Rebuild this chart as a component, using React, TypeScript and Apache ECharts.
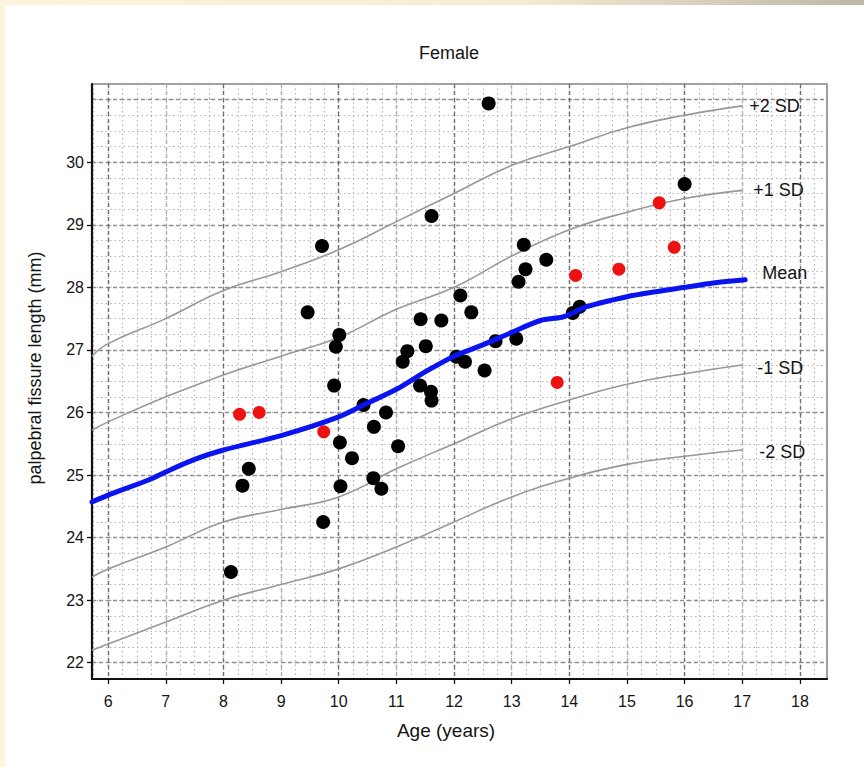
import React, { useEffect, useRef } from "react";
import * as echarts from "echarts";

// ---- tick labels ----
const xTickValues = [6, 7, 8, 9, 10, 11, 12, 13, 14, 15, 16, 17, 18];
const yTickValues = [22, 23, 24, 25, 26, 27, 28, 29, 30];
const yGridValues = [22, 23, 24, 25, 26, 27, 28, 29, 30, 31];

// ---- reference curves ----
const curveAges = [5.72, 6, 7, 8, 9, 10, 11, 12, 13, 14, 15, 16, 17];
const plus2SD = [26.9, 27.1, 27.5, 27.95, 28.25, 28.6, 29.05, 29.5, 29.95, 30.25, 30.55, 30.75, 30.9];
const plus1SD = [25.72, 25.85, 26.25, 26.6, 26.9, 27.2, 27.65, 28.0, 28.5, 28.92, 29.2, 29.42, 29.55];
const minus1SD = [23.37, 23.5, 23.85, 24.25, 24.45, 24.65, 25.1, 25.5, 25.9, 26.2, 26.45, 26.62, 26.76];
const minus2SD = [22.2, 22.3, 22.65, 23.0, 23.25, 23.5, 23.85, 24.25, 24.65, 24.95, 25.17, 25.3, 25.4];

const meanAges = [5.72, 6, 6.7, 7, 7.5, 8, 9, 10, 10.5, 11, 11.5, 12, 12.5, 13, 13.5, 13.9, 14.3, 15, 15.5, 16, 16.5, 17.05];
const meanValues = [24.57, 24.68, 24.92, 25.05, 25.25, 25.4, 25.63, 25.93, 26.15, 26.37, 26.65, 26.9, 27.08, 27.28, 27.47, 27.53, 27.69, 27.85, 27.93, 28.0, 28.07, 28.12];

const curveLabels = ["+2 SD", "+1 SD", "Mean", "-1 SD", "-2 SD"];

// ---- observations ----
const blackAges = [8.13, 8.33, 8.44, 9.46, 9.71, 9.73, 9.92, 9.95, 10.01, 10.02, 10.03, 10.23, 10.43, 10.6, 10.61, 10.74, 10.82, 11.03, 11.11, 11.19, 11.41, 11.42, 11.51, 11.6, 11.61, 11.61, 11.78, 12.04, 12.11, 12.19, 12.3, 12.53, 12.6, 12.72, 13.08, 13.12, 13.21, 13.24, 13.6, 14.06, 14.18, 16.0];
const blackValues = [23.45, 24.83, 25.1, 27.6, 28.66, 24.25, 26.43, 27.05, 27.24, 25.52, 24.82, 25.27, 26.12, 24.95, 25.77, 24.78, 26.0, 25.46, 26.81, 26.98, 26.43, 27.49, 27.06, 26.33, 26.19, 29.14, 27.47, 26.89, 27.87, 26.81, 27.6, 26.67, 30.94, 27.14, 27.18, 28.09, 28.68, 28.29, 28.44, 27.59, 27.69, 29.65];
const redAges = [8.28, 8.62, 9.74, 13.79, 14.11, 14.86, 15.56, 15.82];
const redValues = [25.97, 26.0, 25.69, 26.48, 28.19, 28.29, 29.35, 28.64];

const X_MIN = 5.72;
const X_MAX = 18.47;
const Y_MIN = 21.74;
const Y_MAX = 31.25;

function steps(from: number, to: number, step: number): number[] {
  const out: number[] = [];
  for (let v = from; v <= to + 1e-9; v += step) out.push(Math.round(v * 100) / 100);
  return out;
}

const xMinorValues = steps(5.75, 18.25, 0.25);
const yMinorValues = steps(21.75, 31.25, 0.25);

const FONT = "'Liberation Sans', Arial, sans-serif";
const TEXT = "#141414";

export default function App() {
  const ref = useRef<HTMLDivElement>(null);

  useEffect(() => {
    document.body.style.margin = "0";
    if (!ref.current) return;
    const chart = echarts.init(ref.current, null, { renderer: "svg" });

    const gridBox = { left: 92, top: 84, width: 735, height: 595 };

    const pair = (xs: number[], ys: number[]) => xs.map((x, i) => [x, ys[i]]);

    const sdSeries = [
      { data: plus2SD, label: curveLabels[0], dist: 7, off: [0, 0] },
      { data: plus1SD, label: curveLabels[1], dist: 11, off: [0, 0] },
      { data: minus1SD, label: curveLabels[3], dist: 15, off: [0, 3] },
      { data: minus2SD, label: curveLabels[4], dist: 17, off: [0, 2] },
    ].map((s) => ({
      type: "line",
      name: s.label,
      xAxisIndex: 2,
      yAxisIndex: 2,
      data: pair(curveAges, s.data),
      smooth: 0.45,
      symbol: "none",
      lineStyle: { color: "#979797", width: 1.6 },
      endLabel: {
        show: true,
        formatter: s.label,
        distance: s.dist,
        offset: s.off,
        color: TEXT,
        fontSize: 18,
        fontFamily: FONT,
      },
      z: 3,
    }));

    const option: any = {
      animation: false,
      backgroundColor: "#ffffff",
      grid: [
        { ...gridBox, show: false },
        { ...gridBox, show: false },
        { ...gridBox, show: true, borderColor: "#808080", borderWidth: 1.5, backgroundColor: "transparent" },
      ],
      xAxis: [
        {
          type: "value", gridIndex: 0, min: X_MIN, max: X_MAX,
          axisLine: { show: false }, axisLabel: { show: false, customValues: xMinorValues },
          axisTick: { show: false, customValues: xMinorValues },
          splitLine: { show: true, lineStyle: { color: "#b4b4b4", width: 1.2, type: [1.5, 3] } },
        },
        {
          type: "value", gridIndex: 1, min: X_MIN, max: X_MAX,
          axisLine: { show: false }, axisLabel: { show: false, customValues: xTickValues },
          axisTick: { show: false, customValues: xTickValues },
          splitLine: { show: true, lineStyle: { color: ["#6e6e6e", "#b0b0b0"], width: 1.4, type: [4, 3] } },
        },
        {
          type: "value", gridIndex: 2, min: X_MIN, max: X_MAX,
          axisLine: { show: true, onZero: false, lineStyle: { color: "#111", width: 2.2 } },
          axisTick: { show: true, customValues: xTickValues, length: 5, lineStyle: { color: "#111", width: 1.3 } },
          axisLabel: {
            show: true, customValues: xTickValues, margin: 14,
            color: TEXT, fontSize: 16, fontFamily: FONT,
          },
          splitLine: { show: false },
        },
      ],
      yAxis: [
        {
          type: "value", gridIndex: 0, min: Y_MIN, max: Y_MAX,
          axisLine: { show: false }, axisLabel: { show: false, customValues: yMinorValues },
          axisTick: { show: false, customValues: yMinorValues },
          splitLine: { show: true, lineStyle: { color: "#b4b4b4", width: 1.2, type: [1.5, 3] } },
        },
        {
          type: "value", gridIndex: 1, min: Y_MIN, max: Y_MAX,
          axisLine: { show: false }, axisLabel: { show: false, customValues: yGridValues },
          axisTick: { show: false, customValues: yGridValues },
          splitLine: { show: true, lineStyle: { color: "#909090", width: 1.4, type: [4, 3] } },
        },
        {
          type: "value", gridIndex: 2, min: Y_MIN, max: Y_MAX,
          axisLine: { show: true, onZero: false, lineStyle: { color: "#111", width: 2.2 } },
          axisTick: { show: true, customValues: yTickValues, length: 5, lineStyle: { color: "#111", width: 1.3 } },
          axisLabel: {
            show: true, customValues: yTickValues, margin: 8,
            color: TEXT, fontSize: 16, fontFamily: FONT,
          },
          splitLine: { show: false },
        },
      ],
      graphic: [
        {
          type: "rect", shape: { x: 0, y: 0, width: 864, height: 5 }, silent: true,
          style: {
            fill: new echarts.graphic.LinearGradient(0, 0, 1, 0, [
              { offset: 0, color: "#fcf4dd" },
              { offset: 0.6, color: "#f4ecd4" },
              { offset: 1, color: "#bdb8a4" },
            ]),
          },
        },
        { type: "rect", shape: { x: 0, y: 0, width: 5, height: 767 }, silent: true, style: { fill: "#fcf4dd" } },
        {
          type: "text", x: 449, y: 53, silent: true,
          style: { text: "Female", fill: TEXT, font: `18px ${FONT}`, align: "center", verticalAlign: "middle" },
        },
        {
          type: "text", x: 446, y: 730, silent: true,
          style: { text: "Age (years)", fill: TEXT, font: `19px ${FONT}`, align: "center", verticalAlign: "middle" },
        },
        {
          type: "text", x: 35, y: 368, rotation: Math.PI / 2, silent: true,
          style: { text: "palpebral fissure length (mm)", fill: TEXT, font: `18px ${FONT}`, align: "center", verticalAlign: "middle" },
        },
      ],
      series: [
        ...sdSeries,
        {
          type: "scatter",
          name: "black",
          xAxisIndex: 2,
          yAxisIndex: 2,
          data: pair(blackAges, blackValues),
          symbolSize: 14,
          itemStyle: { color: "#000000", opacity: 1 },
          z: 4,
        },
        {
          type: "scatter",
          name: "red",
          xAxisIndex: 2,
          yAxisIndex: 2,
          data: pair(redAges, redValues),
          symbolSize: 13,
          itemStyle: { color: "#ee1111", opacity: 1 },
          z: 4,
        },
        {
          type: "line",
          name: curveLabels[2],
          xAxisIndex: 2,
          yAxisIndex: 2,
          data: pair(meanAges, meanValues),
          smooth: 0.3,
          symbol: "none",
          lineStyle: { color: "#0a14f0", width: 5, cap: "round" },
          endLabel: {
            show: true,
            formatter: curveLabels[2],
            distance: 17,
            offset: [0, -7],
            color: TEXT,
            fontSize: 18,
            fontFamily: FONT,
          },
          z: 5,
        },
      ],
    };

    chart.setOption(option);
    return () => chart.dispose();
  }, []);

  return (
    <div
      ref={ref}
      style={{ position: "absolute", left: 0, top: 0, width: 864, height: 767 }}
    />
  );
}
